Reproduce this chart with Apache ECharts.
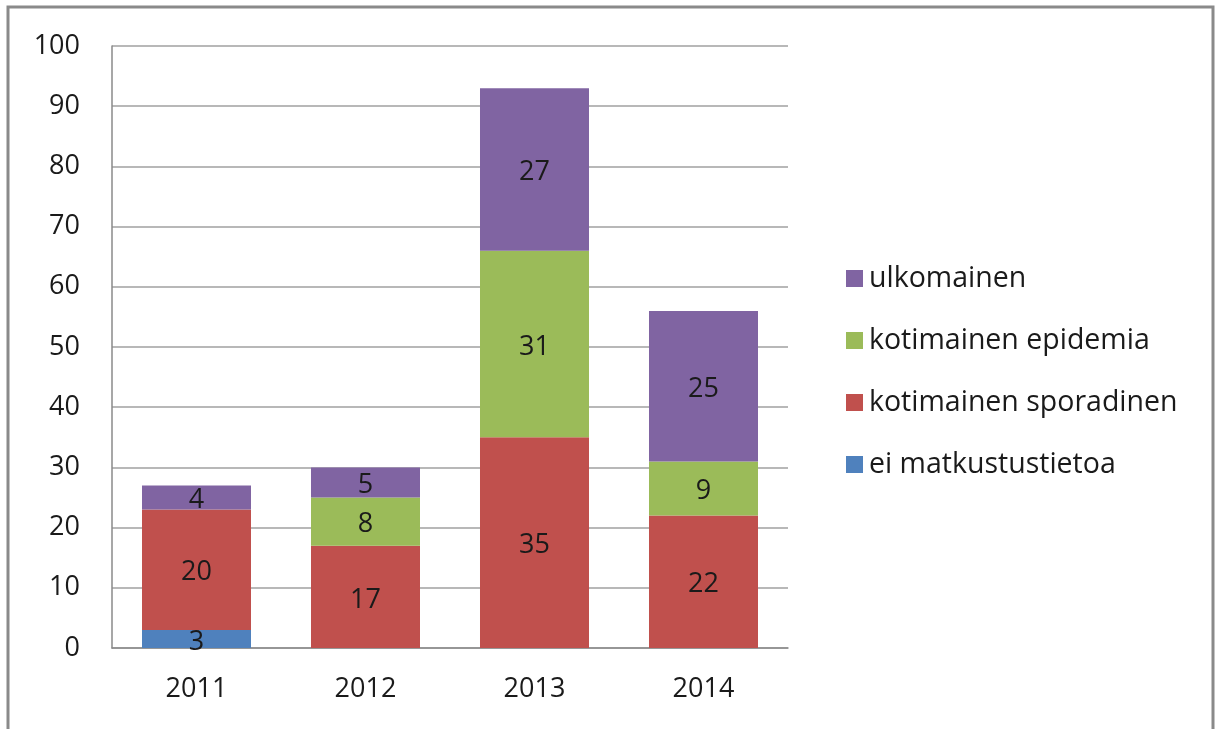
<!DOCTYPE html>
<html>
<head>
<meta charset="utf-8">
<script src="https://cdn.jsdelivr.net/npm/echarts@6/dist/echarts.min.js"></script>
<style>
  html, body { margin: 0; padding: 0; background: #fff; }
  #chart { width: 1215px; height: 729px; }
</style>
</head>
<body>
<div id="chart"></div>
<script>
const years = ['2011', '2012', '2013', '2014'];
const eiMatkustustietoa = [3, '-', '-', '-'];
const sporadinen = [20, 17, 35, 22];
const epidemia = ['-', 8, 31, 9];
const ulkomainen = [4, 5, 27, 25];
const yTicks = { min: 0, max: 100, interval: 10 };

const font = 'Open Sans';
const txt = '#1a1a1a';

const makeSeries = (name, data, color) => ({
  name: name,
  type: 'bar',
  stack: 'total',
  data: data,
  barWidth: '64.5%',
  itemStyle: { color: color },
  label: {
    show: true,
    position: 'inside',
    color: txt,
    fontSize: 27,
    fontFamily: font,
    offset: [0, 3],
  },
});

const myChart = echarts.init(document.getElementById('chart'));
myChart.setOption({
  animation: false,
  textStyle: { fontFamily: font },
  graphic: [
    {
      type: 'rect',
      shape: { x: 8, y: 7, width: 1205, height: 800 },
      style: { fill: 'none', stroke: '#8a8a8a', lineWidth: 3 },
      silent: true,
    },
  ],
  legend: {
    orient: 'vertical',
    left: 841,
    top: 259,
    itemWidth: 17,
    itemHeight: 17,
    itemGap: 33,
    icon: 'rect',
    textStyle: { color: txt, fontSize: 28.5, fontFamily: font, padding: [0, 0, 0, 1] },
    data: ['ulkomainen', 'kotimainen epidemia', 'kotimainen sporadinen', 'ei matkustustietoa'],
  },
  grid: {
    left: 112,
    top: 46,
    right: 427,
    bottom: 81,
    containLabel: false,
  },
  xAxis: {
    type: 'category',
    data: years,
    axisLine: { lineStyle: { color: '#8a8a8a', width: 1.5 } },
    axisTick: { show: false },
    axisLabel: { color: txt, fontSize: 27, fontFamily: font, margin: 28 },
  },
  yAxis: {
    type: 'value',
    min: yTicks.min,
    max: yTicks.max,
    interval: yTicks.interval,
    axisLine: { show: true, lineStyle: { color: '#8a8a8a', width: 1.5 } },
    axisTick: { show: false },
    axisLabel: { color: txt, fontSize: 27, fontFamily: font, margin: 32 },
    splitLine: { lineStyle: { color: '#a0a0a0', width: 1.5 } },
  },
  series: [
    makeSeries('ei matkustustietoa', eiMatkustustietoa, '#4f81bd'),
    makeSeries('kotimainen sporadinen', sporadinen, '#c0504d'),
    makeSeries('kotimainen epidemia', epidemia, '#9bbb59'),
    makeSeries('ulkomainen', ulkomainen, '#8064a2'),
  ],
});
window.addEventListener('resize', function () {
  myChart.resize();
});
</script>
</body>
</html>
